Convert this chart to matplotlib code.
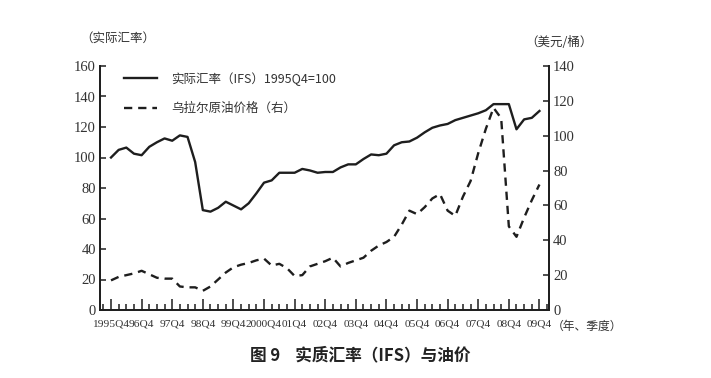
import matplotlib
matplotlib.use('Agg')
import matplotlib.pyplot as plt
from matplotlib.ticker import FixedLocator, MultipleLocator

plt.rcParams['font.family'] = ['Noto Sans CJK SC', 'DejaVu Sans']

# quarterly data, 1995Q4 .. 2009Q4
rate = [100, 105, 106.5, 102.5, 101.5, 107, 110, 112.5, 111, 114.5,
        113.5, 97, 65.5, 64.5, 67, 71, 68.5, 66, 70, 76.5,
        83.5, 85, 90, 90, 90, 92.5, 91.5, 90, 90.5, 90.5,
        93.5, 95.5, 95.5, 99, 102, 101.5, 102.5, 108, 110, 110.5,
        113, 116.5, 119.5, 121, 122, 124.5, 126, 127.5, 129, 131,
        135, 135, 135, 118.5, 125, 126, 130.5]
oil = [17, 19, 20, 21, 22.5, 20.5, 18.5, 18, 18, 13.5,
       13, 13, 11, 13.5, 17.5, 21.5, 24.5, 26, 27, 28.5,
       29.5, 25.5, 26.5, 24, 19.5, 20, 25, 26.5, 28, 30,
       25, 27, 28.5, 30, 34, 37, 39, 42, 49, 57,
       55, 59, 64, 66.5, 57, 54, 65, 74, 90, 104,
       116, 110, 48, 42, 53, 63, 72]
year_labels = ['1995Q4', '96Q4', '97Q4', '98Q4', '99Q4', '2000Q4', '01Q4', '02Q4',
               '03Q4', '04Q4', '05Q4', '06Q4', '07Q4', '08Q4', '09Q4']

quarters = list(range(len(rate)))
ink = '#1e1e1e'
num_font = 'Liberation Serif'

fig = plt.figure(figsize=(7.11, 3.78), dpi=100)
ax = fig.add_axes([100/711, 1-310/378, 449/711, 244/378])
ax2 = ax.twinx()

l1, = ax.plot(quarters, rate, color=ink, lw=1.7, label='实际汇率（IFS）1995Q4=100')
l2, = ax2.plot(quarters, oil, color=ink, lw=1.7, ls=(0, (3.5, 2.5)), label='乌拉尔原油价格（右）')

ax.set_xlim(-1.44, 57.25)
ax.set_ylim(0, 160)
ax2.set_ylim(0, 140)

ax.xaxis.set_major_locator(FixedLocator(quarters[::4]))
ax.xaxis.set_minor_locator(MultipleLocator(1))
ax.set_xticklabels(year_labels, fontfamily=num_font, fontsize=8.2, color='#333333')
ax.tick_params(axis='x', which='major', direction='in', length=8, width=1.1, pad=7, color=ink)
ax.tick_params(axis='x', which='minor', direction='in', length=4, width=1.1, color=ink)
ax.yaxis.set_major_locator(MultipleLocator(20))
ax.tick_params(axis='y', direction='in', length=4, width=1.1, pad=3, color=ink,
               labelfontfamily=num_font, labelsize=10.5, labelcolor='#333333')
ax2.yaxis.set_major_locator(MultipleLocator(20))
ax2.tick_params(axis='y', direction='in', length=4, width=1.1, pad=3, color=ink,
                labelfontfamily=num_font, labelsize=10.5, labelcolor='#333333')

for a in (ax, ax2):
    a.spines['top'].set_visible(False)
    for s in ('left', 'right', 'bottom'):
        a.spines[s].set_linewidth(1.3)
        a.spines[s].set_color(ink)

fig.text(80/711, 1-38/378, '（实际汇率）', fontsize=9, color='#333333', va='center', ha='left')
fig.text(525/711, 1-42/378, '（美元/桶）', fontsize=9, color='#333333', va='center', ha='left')
fig.text(552/711, 1-326/378, '（年、季度）', fontsize=8.5, color='#333333', va='center', ha='left')
fig.text(360/711, 1-355/378, '图 9    实质汇率（IFS）与油价', fontsize=12, fontweight='bold',
         color='#222222', va='center', ha='center')

ax.legend(handles=[l1, l2], loc='upper left', bbox_to_anchor=(124/711, 1-72/378),
          bbox_transform=fig.transFigure, frameon=False, fontsize=9,
          handlelength=2.6, handletextpad=1.2, labelspacing=1.3, borderpad=0,
          borderaxespad=0, labelcolor='#333333')

fig.savefig('out.png', dpi=100)
